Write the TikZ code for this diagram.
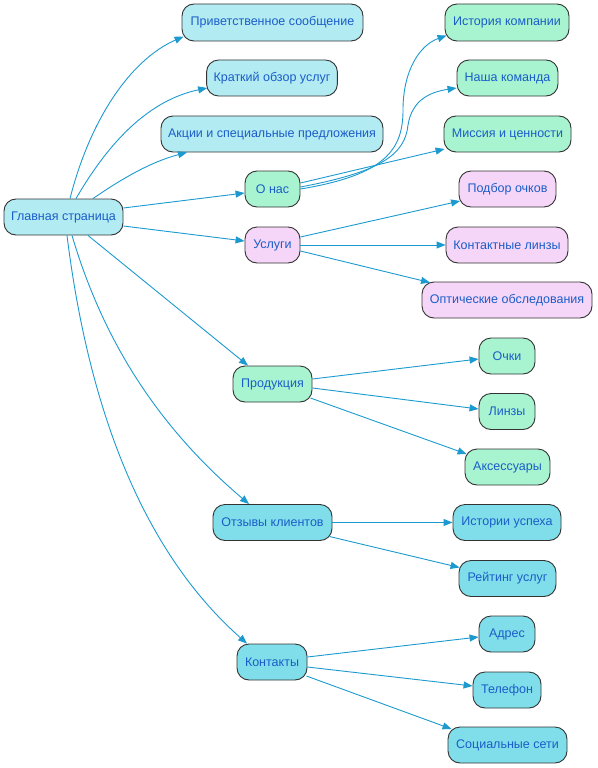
\documentclass[tikz,border=0pt]{standalone}
\usepackage{fontspec}
\setmainfont{Liberation Sans}
\usetikzlibrary{arrows.meta,calc}
\definecolor{cyanA}{HTML}{B3EBF3}
\definecolor{greenA}{HTML}{A8F4D0}
\definecolor{pinkA}{HTML}{F6D6F8}
\definecolor{cyanB}{HTML}{80DEEA}
\definecolor{edgeC}{HTML}{1C9AD0}
\definecolor{textC}{HTML}{1A5DC8}
\definecolor{bordC}{HTML}{333333}
\tikzset{
  box/.style={draw=bordC, line width=0.9pt, rounded corners=12pt, minimum height=36pt,
    inner xsep=7pt, inner ysep=2pt, text=textC, font=\fontsize{12.5}{14}\selectfont, anchor=center},
  bc/.style={box, fill=cyanA},
  bg/.style={box, fill=greenA},
  bp/.style={box, fill=pinkA},
  bd/.style={box, fill=cyanB},
  conn/.style={draw=edgeC, line width=0.9pt, -{Triangle[length=9pt,width=7pt]}}
}
\begin{document}
\begin{tikzpicture}[x=1pt,y=-1pt]
\useasboundingbox (0,0) rectangle (597,768);
% level 0
\node[bc, minimum width=119pt] (main) at (63.5,217) {Главная страница};
% level 1
\node[bc, minimum width=181pt, minimum height=37pt] (w1) at (272.5,22.5) {Приветственное сообщение};
\node[bc, minimum width=130pt] (w2) at (272,78) {Краткий обзор услуг};
\node[bc, minimum width=222pt] (w3) at (272,134) {Акции и специальные предложения};
\node[bg, minimum width=55pt] (about) at (272.5,189) {О нас};
\node[bp, minimum width=55pt] (serv) at (272.5,245) {Услуги};
\node[bg, minimum width=79pt] (prod) at (272.5,384) {Продукция};
\node[bd, minimum width=119pt] (rev) at (272.5,522.5) {Отзывы клиентов};
\node[bd, minimum width=70pt] (cont) at (272,662) {Контакты};
% level 2
\node[bg, minimum width=124pt, minimum height=37pt] (a1) at (507,22.5) {История компании};
\node[bg, minimum width=101pt] (a2) at (507.5,78) {Наша команда};
\node[bg, minimum width=127pt] (a3) at (507.5,134) {Миссия и ценности};
\node[bp, minimum width=97pt] (s1) at (507.5,189) {Подбор очков};
\node[bp, minimum width=122pt] (s2) at (507,245) {Контактные линзы};
\node[bp, minimum width=170pt] (s3) at (507,300) {Оптические обследования};
\node[bg, minimum width=56pt] (p1) at (507,356) {Очки};
\node[bg, minimum width=56pt] (p2) at (507,411.5) {Линзы};
\node[bg, minimum width=85pt] (p3) at (507.5,467) {Аксессуары};
\node[bd, minimum width=108pt] (r1) at (507,522.5) {Истории успеха};
\node[bd, minimum width=97pt] (r2) at (507.5,578.5) {Рейтинг услуг};
\node[bd, minimum width=56pt] (c1) at (507,634) {Адрес};
\node[bd, minimum width=68pt] (c2) at (507,690) {Телефон};
\node[bd, minimum width=119pt] (c3) at (507.5,745) {Социальные сети};
% edges from main
\draw[conn] ($(main.north)+(6.5,0)$) .. controls (90,120) and (130,60) .. ($(w1.west)+(2,14)$);
\draw[conn] ($(main.north)+(12.5,0)$) .. controls (110,140) and (150,100) .. ($(w2.west)+(1,10)$);
\draw[conn] ($(main.north)+(29.5,0)$) .. controls (120,180) and (150,162) .. ($(w3.south)+(-85,0)$);
\draw[conn] ($(main.east)+(0,-9)$) -- ($(about.west)+(0,4)$);
\draw[conn] ($(main.east)+(0,9)$) -- ($(serv.west)+(0,-4)$);
\draw[conn] ($(main.south)+(24.5,0)$) -- ($(prod.north)+(-24.5,0)$);
\draw[conn] ($(main.south)+(8.5,0)$) .. controls (100,330) and (150,420) .. ($(rev.north)+(-23.5,0)$);
\draw[conn] ($(main.south)+(3.5,0)$) .. controls (85,380) and (130,540) .. ($(cont.north)+(-25,0)$);
% about
\draw[conn] ($(about.east)+(0,-6)$) -- ($(a3.west)+(1,15)$);
\draw[conn] ($(about.east)+(0,-2)$) .. controls (380,172) and (405,155) .. (408,125) .. controls (412,100) and (430,92) .. ($(a2.west)+(0,10)$);
\draw[conn] (about.east) .. controls (385,175) and (403,150) .. (403,110) .. controls (403,70) and (420,45) .. ($(a1.west)+(2,13)$);
% services
\draw[conn] ($(serv.east)+(0,-8)$) -- ($(s1.west)+(1.5,12)$);
\draw[conn] (serv.east) -- (s2.west);
\draw[conn] ($(serv.east)+(0,6)$) -- ($(s3.north)+(-77,1)$);
% products
\draw[conn] ($(prod.east)+(0,-5)$) -- ($(p1.west)+(0,3)$);
\draw[conn] ($(prod.east)+(0,4)$) -- ($(p2.west)+(0,-2.5)$);
\draw[conn] ($(prod.east)+(-2,14)$) -- ($(p3.west)+(2,-13)$);
% reviews
\draw[conn] (rev.east) -- (r1.west);
\draw[conn] ($(rev.east)+(-3,14)$) -- ($(r2.west)+(1,-11)$);
% contacts
\draw[conn] ($(cont.east)+(0,-5)$) -- ($(c1.west)+(0,3)$);
\draw[conn] ($(cont.east)+(0,5)$) -- ($(c2.west)+(0,-4)$);
\draw[conn] ($(cont.east)+(-1,14)$) -- ($(c3.west)+(4,-16)$);
\end{tikzpicture}
\end{document}
